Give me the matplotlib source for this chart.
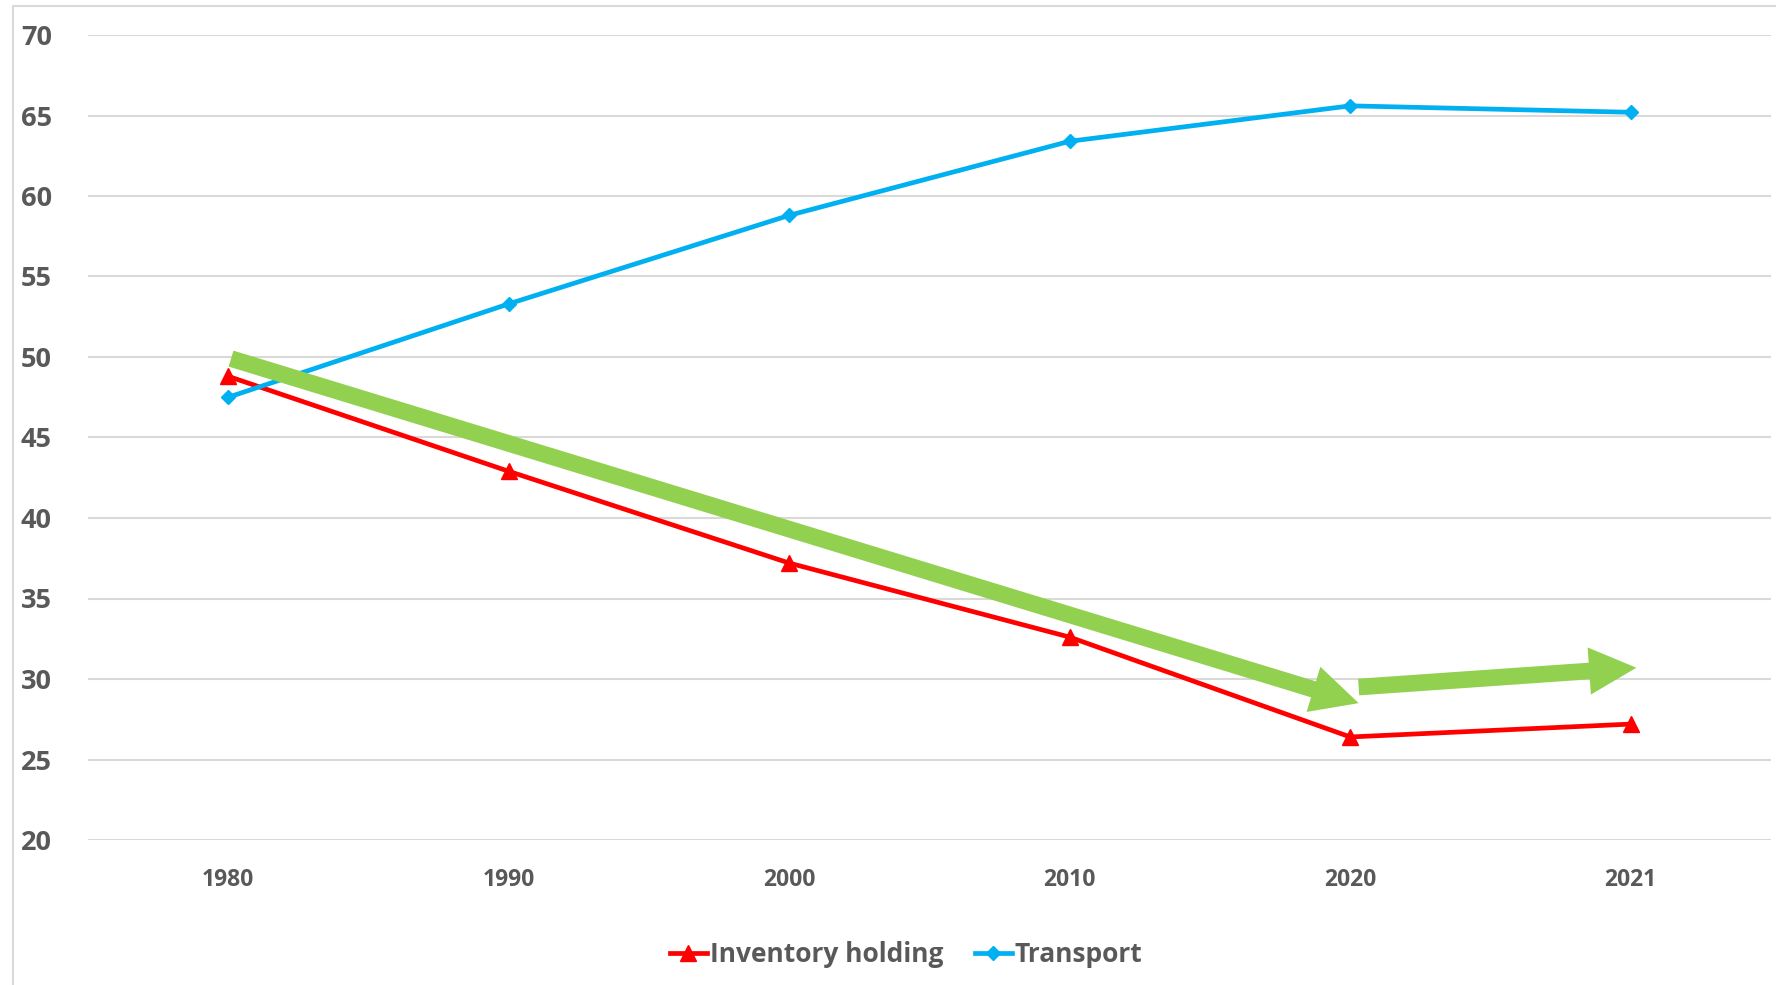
import matplotlib
matplotlib.use("Agg")
import matplotlib.pyplot as plt
from matplotlib.patches import FancyArrowPatch, Rectangle
from matplotlib.lines import Line2D

years = ["1980", "1990", "2000", "2010", "2020", "2021"]
inventory = [48.8, 42.9, 37.2, 32.6, 26.4, 27.2]
transport = [47.5, 53.3, 58.8, 63.4, 65.6, 65.2]
y_ticks = [20, 25, 30, 35, 40, 45, 50, 55, 60, 65, 70]

# trend arrows (annotation): (x_index, value)
arrow1 = [(0.01, 49.9), (4.03, 28.5)]
arrow2 = [(4.03, 29.5), (5.02, 30.7)]

RED = "#FF0000"
BLUE = "#00B0F0"
GREEN = "#92D050"
TXT = "#595959"
GRID = "#D9D9D9"

plt.rcParams['font.family'] = ['Open Sans', 'DejaVu Sans']

fig = plt.figure(figsize=(17.76, 9.85), dpi=100)
ax = fig.add_axes([88/1776, 1-840/985, (1771-88)/1776, (840-35)/985])

x = list(range(len(years)))
ax.plot(x, inventory, color=RED, lw=3.4, marker="^", ms=11, mfc=RED, mec=RED, zorder=3)
ax.plot(x, transport, color=BLUE, lw=3.4, marker="D", ms=7, mfc=BLUE, mec=BLUE, zorder=3)

ax.set_xlim(-0.5, len(years) - 0.5)
ax.set_ylim(20, 70)
ax.set_yticks(y_ticks)
ax.set_xticks(x)
ax.set_xticklabels(years)
ax.tick_params(axis="x", length=0, pad=20, labelsize=16.5, labelcolor=TXT)
ax.tick_params(axis="y", length=0, pad=26, labelsize=19.5, labelcolor=TXT)
for lab in ax.get_xticklabels() + ax.get_yticklabels():
    lab.set_fontweight("bold")
ax.grid(axis="y", color=GRID, lw=1.5)
ax.set_axisbelow(True)
for s in ax.spines.values():
    s.set_visible(False)

for (a, b) in (arrow1, arrow2):
    arr = FancyArrowPatch(a, b, arrowstyle="simple,head_width=34,head_length=34,tail_width=12",
                          mutation_scale=1, color=GREEN, shrinkA=0, shrinkB=0, zorder=4, lw=0)
    ax.add_patch(arr)

# chart border
fig.patches.append(Rectangle((13/1776, -0.1), 1.2, 1 - 6/985 + 0.1, transform=fig.transFigure,
                             fill=False, edgecolor="#D9D9D9", lw=1.5))

handles = [Line2D([], [], color=RED, lw=3.4, marker="^", ms=11),
           Line2D([], [], color=BLUE, lw=3.4, marker="D", ms=7)]
leg = fig.legend(handles, ["Inventory holding", "Transport"], loc="center",
                 bbox_to_anchor=(906/1776, 1-955/985), ncol=2, frameon=False,
                 handlelength=1.4, handletextpad=0.1, columnspacing=1.2,
                 prop={"size": 19, "weight": "bold"})
for t in leg.get_texts():
    t.set_color(TXT)

fig.savefig("out.png", dpi=100)
